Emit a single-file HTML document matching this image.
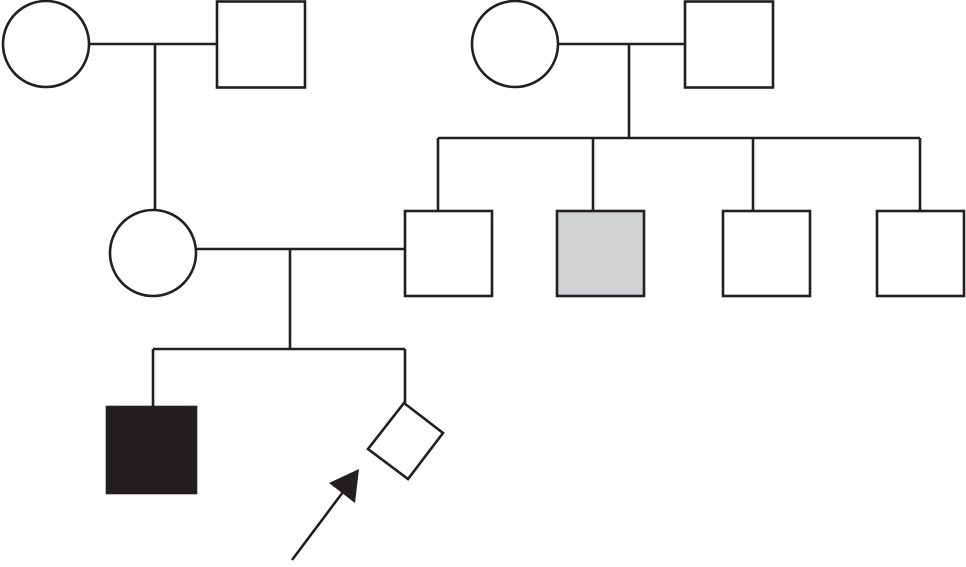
<!DOCTYPE html>
<html><head><style>html,body{margin:0;padding:0;background:#fff}</style></head>
<body>
<svg width="966" height="562" viewBox="0 0 966 562" xmlns="http://www.w3.org/2000/svg">
<g fill="none" stroke="#231f20" stroke-width="2.6">
<circle cx="46" cy="44" r="43" fill="#fff"/>
<rect x="217" y="1.5" width="88" height="86" fill="#fff"/>
<line x1="89" y1="44" x2="217" y2="44"/>
<line x1="155" y1="44" x2="155" y2="211"/>
<circle cx="515" cy="44" r="43" fill="#fff"/>
<rect x="685" y="1.5" width="88" height="86" fill="#fff"/>
<line x1="558" y1="44" x2="685" y2="44"/>
<line x1="629" y1="44" x2="629" y2="138"/>
<line x1="438" y1="138" x2="920" y2="138"/>
<line x1="438" y1="138" x2="438" y2="211"/>
<line x1="593" y1="138" x2="593" y2="211"/>
<line x1="753" y1="138" x2="753" y2="211"/>
<line x1="920" y1="138" x2="920" y2="211"/>
<rect x="405" y="211" width="87" height="85" fill="#fff"/>
<rect x="557" y="211" width="87" height="85" fill="#d1d2d4"/>
<rect x="723" y="211" width="87" height="85" fill="#fff"/>
<rect x="877" y="211" width="87" height="85" fill="#fff"/>
<circle cx="153" cy="253" r="43" fill="#fff"/>
<line x1="196" y1="249" x2="405" y2="249"/>
<line x1="290" y1="249" x2="290" y2="349"/>
<line x1="153" y1="349" x2="405" y2="349"/>
<line x1="153" y1="349" x2="153" y2="407"/>
<line x1="405" y1="349" x2="405" y2="403"/>
<rect x="107" y="407" width="89" height="86" fill="#231f20"/>
<polygon points="404,403 443,433 408,479 368,449" fill="#fff"/>
<line x1="292" y1="560" x2="343" y2="492"/>
</g>
<polygon points="359,469 329,483 355,503" fill="#231f20"/>
</svg>
</body></html>
